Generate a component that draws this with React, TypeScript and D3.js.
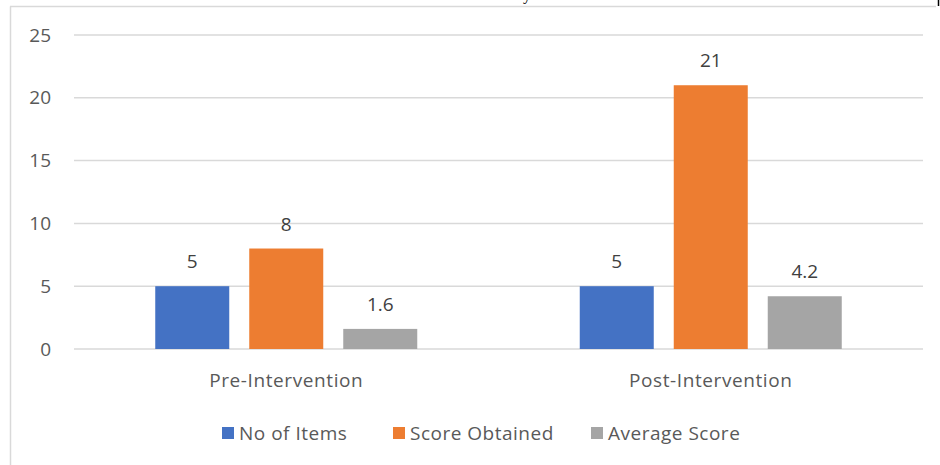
import React from "react";
import * as d3 from "d3";

// chart data
const categories = ["Pre-Intervention", "Post-Intervention"];
const seriesNames = ["No of Items", "Score Obtained", "Average Score"];
const noOfItems = [5, 5];
const scoreObtained = [8, 21];
const averageScore = [1.6, 4.2];
const yTicks = [0, 5, 10, 15, 20, 25];

const colors = ["#4472c4", "#ed7d31", "#a5a5a5"];
const font = "'Open Sans', 'Noto Sans', sans-serif";

export default function App() {
    const ref = React.useRef<SVGSVGElement>(null);

    React.useEffect(() => {
        const svg = d3.select(ref.current);
        svg.selectAll("*").remove();

        const width = 940;
        const height = 465;
        const margin = { top: 35, bottom: 116, left: 74, right: 17 };

        const values = [noOfItems, scoreObtained, averageScore];

        // frame around the chart
        svg.append("line")
            .attr("x1", 10.5).attr("x2", 10.5)
            .attr("y1", 6.5).attr("y2", height)
            .attr("stroke", "#d9d9d9").attr("stroke-width", 1.5);
        svg.append("line")
            .attr("x1", 10).attr("x2", 936)
            .attr("y1", 6.5).attr("y2", 6.5)
            .attr("stroke", "#d9d9d9").attr("stroke-width", 1.5);
        svg.append("line")
            .attr("x1", 938.5).attr("x2", 938.5)
            .attr("y1", 0).attr("y2", 6)
            .attr("stroke", "#000").attr("stroke-width", 1.5);
        // descender of cut-off caption text above
        svg.append("text")
            .attr("x", 523).attr("y", 0)
            .attr("font-family", "'Liberation Serif', serif")
            .attr("font-size", 16)
            .attr("fill", "#000")
            .text("y");

        const x = d3
            .scaleBand()
            .domain(categories)
            .range([margin.left, width - margin.right]);

        const y = d3
            .scaleLinear()
            .domain([0, 25])
            .range([height - margin.bottom, margin.top]);

        // 3 bars of 74px with 20px gaps inside a 424px band
        const inner = d3
            .scaleBand()
            .domain(seriesNames)
            .range([0, x.bandwidth()])
            .paddingInner(20 / 94)
            .paddingOuter((424.5 - 262) / 2 / 94);

        // gridlines
        svg.append("g")
            .selectAll("line")
            .data(yTicks)
            .join("line")
            .attr("x1", margin.left)
            .attr("x2", width - margin.right)
            .attr("y1", (d) => y(d))
            .attr("y2", (d) => y(d))
            .attr("stroke", "#d9d9d9")
            .attr("stroke-width", 1.5);

        // y labels
        svg.append("g")
            .selectAll("text")
            .data(yTicks)
            .join("text")
            .attr("x", 51)
            .attr("y", (d) => y(d))
            .attr("dy", "0.35em")
            .attr("text-anchor", "end")
            .attr("font-family", font)
            .attr("font-size", 19)
            .attr("fill", "#595959")
            .text((d) => d);

        // bars + value labels
        values.forEach((vals, si) => {
            const g = svg.append("g");
            g.selectAll("rect")
                .data(vals)
                .join("rect")
                .attr("x", (d, i) => x(categories[i])! + inner(seriesNames[si])!)
                .attr("y", (d) => y(d))
                .attr("width", inner.bandwidth())
                .attr("height", (d) => y(0) - y(d))
                .attr("fill", colors[si]);
            g.selectAll("text")
                .data(vals)
                .join("text")
                .attr(
                    "x",
                    (d, i) =>
                        x(categories[i])! +
                        inner(seriesNames[si])! +
                        inner.bandwidth() / 2
                )
                .attr("y", (d) => y(d) - 18)
                .attr("text-anchor", "middle")
                .attr("font-family", font)
                .attr("font-size", 19)
                .attr("fill", "#404040")
                .text((d) => d);
        });

        // category labels
        svg.append("g")
            .selectAll("text")
            .data(categories)
            .join("text")
            .attr("x", (d) => x(d)! + x.bandwidth() / 2)
            .attr("y", 387)
            .attr("text-anchor", "middle")
            .attr("font-family", font)
            .attr("font-size", 19)
            .attr("letter-spacing", 0.6)
            .attr("fill", "#595959")
            .text((d) => d);

        // legend
        const legendX = [222, 393, 591];
        const legend = svg.append("g");
        seriesNames.forEach((name, i) => {
            legend.append("rect")
                .attr("x", legendX[i])
                .attr("y", 427)
                .attr("width", 12)
                .attr("height", 12)
                .attr("fill", colors[i]);
            legend.append("text")
                .attr("x", legendX[i] + 17)
                .attr("y", 440)
                .attr("font-family", font)
                .attr("font-size", 19)
                .attr("letter-spacing", 0.5)
                .attr("fill", "#595959")
                .text(name);
        });
    }, []);

    return (
        <svg
            ref={ref}
            width={940}
            height={465}
            style={{ position: "absolute", left: 0, top: 0, background: "#fff" }}
        />
    );
}
